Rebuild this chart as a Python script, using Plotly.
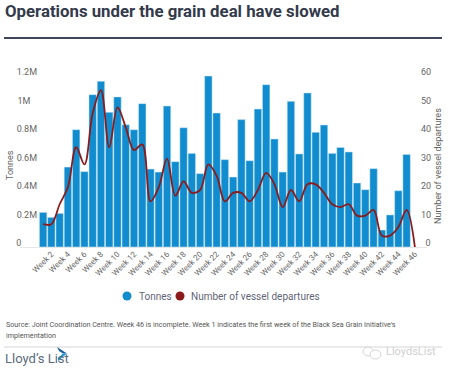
import plotly.graph_objects as go

weeks = [f"Week {i}" for i in range(1, 47)]
tonnes = [243000, 208000, 236000, 561000, 823000, 529000, 1069000, 1163000, 945000, 1053000,
          858000, 823000, 1006000, 547000, 526000, 989000, 599000, 837000, 657000, 515000,
          1200000, 940000, 613000, 491000, 894000, 606000, 968000, 1139000, 758000, 526000,
          1022000, 653000, 1081000, 805000, 856000, 657000, 699000, 667000, 449000, 402000,
          550000, 119000, 225000, 395000, 650000, 0]
departures = [8, 8, 15, 21, 35, 29, 47, 55, 35, 49, 42, 34, 36, 16, 21, 31, 18, 23, 19, 20,
              29, 25, 16, 19, 19, 16, 20, 26, 22, 14, 20, 16, 22, 22, 19, 15, 14, 15, 11, 11,
              13, 4, 4, 7, 13, 0]
tick_weeks = weeks[1::2]
left_vals = [0, 200000, 400000, 600000, 800000, 1000000, 1200000]
left_text = ["0" + "\u00a0" * 7, "0.2M", "0.4M", "0.6M", "0.8M", "1M" + "\u00a0" * 3, "1.2M"]
right_vals = [0, 10, 20, 30, 40, 50, 60]
right_text = ["\u00a0\u00a00", "10", "20", "30", "40", "50", "60"]

W, H = 450, 372
L, R, T, B = 39, 31, 76, 125
pw, ph = W - L - R, H - T - B
def px(x): return (x - L) / pw
def py(y): return (H - B - y) / ph

BLUE, RED = "#118dcf", "#8b1a1a"
GREY, DARK = "#666666", "#333a4b"
LEG = "#5f6478"
FONT = "Roboto"

fig = go.Figure()
fig.add_bar(x=weeks, y=tonnes, marker=dict(color=BLUE, line=dict(color="#cfe8f7", width=0.5)),
            name="Tonnes", yaxis="y", showlegend=False)
fig.add_scatter(x=weeks, y=departures, mode="lines", line=dict(color=RED, width=1.8, shape="spline", smoothing=1),
                name="Number of vessel departures", yaxis="y2", showlegend=False)

def dot(cx, cy, color):
    return dict(type="circle", xref="paper", yref="paper", x0=px(cx - 4.5), x1=px(cx + 4.5),
                y0=py(cy + 4.5), y1=py(cy - 4.5), fillcolor=color, line=dict(width=0))

def label(text, x, y, size, color, anchor="left", angle=0):
    return dict(text=text, xref="paper", yref="paper", x=px(x), y=py(y), xanchor=anchor, yanchor="middle",
                align="left", showarrow=False, textangle=angle, font=dict(size=size, color=color))

def poly(points, color):
    d = "M " + " L ".join(f"{px(a)} {py(b)}" for a, b in points) + " Z"
    return dict(type="path", xref="paper", yref="paper", path=d, fillcolor=color, line=dict(width=0))

fig.update_layout(
    width=W, height=H, margin=dict(l=L, r=R, t=T, b=B), autosize=False,
    paper_bgcolor="white", plot_bgcolor="white", bargap=0.1, showlegend=False,
    font=dict(family=FONT, color=GREY, size=9),
    title=dict(text="<b>Operations under the grain deal have slowed</b>", x=5 / W, xref="container", xanchor="left",
               y=1 - 11 / H, yref="container", yanchor="middle", font=dict(family=FONT, size=16.8, color=DARK)),
    xaxis=dict(type="category", range=[-0.5, 45.5], tickmode="array", tickvals=tick_weeks, ticktext=tick_weeks,
               tickangle=-45, tickfont=dict(size=8, color=GREY), ticks="", showgrid=False, showline=False,
               zeroline=False, automargin=False),
    yaxis=dict(range=[0, 1200000], tickmode="array", tickvals=left_vals, ticktext=left_text,
               tickfont=dict(size=9, color=GREY), showgrid=False, zeroline=False, ticks="",
               ticklabelshift=-4, ticklabelstandoff=1, automargin=False),
    yaxis2=dict(range=[0, 60], overlaying="y", side="right", tickmode="array", tickvals=right_vals, ticktext=right_text,
                tickfont=dict(size=9, color=GREY), showgrid=False, zeroline=False, ticks="",
                ticklabelshift=-4, ticklabelstandoff=1, automargin=False),
    shapes=[
        dict(type="line", xref="paper", yref="paper", x0=px(4), x1=px(442), y0=py(38), y1=py(38),
             line=dict(color="#40465a", width=2)),
        dict(type="line", xref="paper", yref="paper", x0=px(20), x1=px(427), y0=py(247.5), y1=py(247.5),
             line=dict(color="#e6e6e6", width=1), layer="below"),
        dict(type="line", xref="paper", yref="paper", x0=px(4), x1=px(442), y0=py(347), y1=py(347),
             line=dict(color="#e3e3e3", width=1.5)),
        dot(127, 296, BLUE),
        dot(180, 296, RED),
        poly([(57, 347), (67, 353.5), (63, 353.5), (59, 351)], "#1c5f9e"),
        poly([(67, 353.5), (58, 361), (58, 358), (63, 353.5)], "#1f9ad6"),
        dict(type="circle", xref="paper", yref="paper", x0=px(363), x1=px(373), y0=py(356), y1=py(347),
             line=dict(color="#d5d5d5", width=1)),
        dict(type="circle", xref="paper", yref="paper", x0=px(370), x1=px(381), y0=py(359), y1=py(350),
             fillcolor="white", line=dict(color="#d5d5d5", width=1)),
    ],
    annotations=[
        label("Tonnes", 10, 165, 9, GREY, "center", -90),
        label("Number of vessel departures", 438, 166, 9, GREY, "center", -90),
        label("Tonnes", 137, 296, 10, LEG),
        label("Number of vessel departures", 189, 296, 10, LEG),
        label("Source: Joint Coordination Centre. Week 46 is incomplete. Week 1 indicates the first week of the Black Sea Grain Initiative's", 4, 324, 7.17, "#555555"),
        label("implementation", 4, 335, 7.17, "#555555"),
        label("Lloyd’s List", 3, 358, 13, "#5b6b7b"),
        label("LloydsList", 384, 351, 11, "#d0d0d0"),
    ],
)
fig.write_html("out.html", config=dict(displayModeBar=False),
               post_script="document.body.style.margin='0';document.documentElement.style.overflow='hidden';")
